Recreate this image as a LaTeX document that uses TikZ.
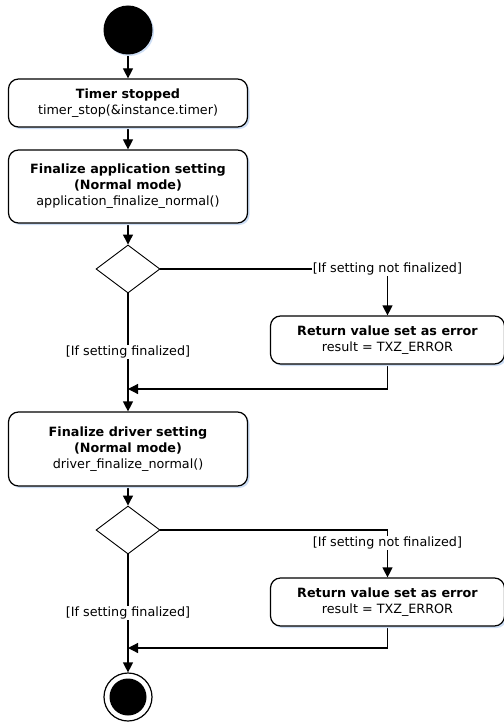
\documentclass[tikz,border=0pt]{standalone}
\usepackage{fontspec}
\setmainfont{DejaVu Sans}
\usepackage{tikz}
\usetikzlibrary{arrows.meta,shapes.geometric,shadows,backgrounds}

\begin{document}
\begin{tikzpicture}[x=1bp,y=-1bp]
\tikzset{action/.style = {rectangle,rounded corners=10bp,draw,line width=1.2bp,fill=white,
  minimum width=239bp,align=center,inner sep=0pt,font=\fontsize{12.8}{16}\selectfont,
  drop shadow={fill={rgb,255:red,205;green,222;blue,245},shadow xshift=2bp,shadow yshift=-2bp,opacity=1}}}
\tikzset{choice/.style = {diamond,draw,line width=0.9bp,minimum width=64bp,minimum height=48bp,inner sep=0pt}}
\tikzset{guard/.style = {fill=white,inner sep=1bp,font=\fontsize{12.8}{15}\selectfont}}
\tikzset{edge/.style = {-{Triangle[length=10bp,width=10bp]},line width=1.2bp}}
\tikzset{flow/.style = {line width=1.2bp}}
\useasboundingbox (0,0) rectangle (504,723);
% vertices
\node[circle,fill=black,minimum size=49bp,inner sep=0pt,
  drop shadow={fill={rgb,255:red,205;green,222;blue,245},shadow xshift=1.5bp,shadow yshift=-1.5bp,opacity=1}] (start) at (128,30) {};
\node[action,minimum height=48bp] (stop) at (128,103) {\textbf{Timer stopped}\\timer\_stop(\&instance.timer)};
\node[action,minimum height=73bp] (app) at (128,186.5) {\textbf{Finalize application setting}\\\textbf{(Normal mode)}\\application\_finalize\_normal()};
\node[choice] (c1) at (128,269) {};
\node[guard] (no1) at (387.5,269) {[If setting not finalized]};
\node[action,minimum width=234bp,minimum height=48bp] (err1) at (387.5,340) {\textbf{Return value set as error}\\result = TXZ\_ERROR};
\node[guard] (yes1) at (128,352) {[If setting finalized]};
\coordinate (m1) at (128,389);
\node[action,minimum height=74bp] (drv) at (128,449) {\textbf{Finalize driver setting}\\\textbf{(Normal mode)}\\driver\_finalize\_normal()};
\node[choice] (c2) at (128,530) {};
\coordinate (k2) at (387.5,530);
\node[guard] (no2) at (387.5,543) {[If setting not finalized]};
\node[action,minimum width=234bp,minimum height=48bp] (err2) at (387.5,602) {\textbf{Return value set as error}\\result = TXZ\_ERROR};
\node[guard] (yes2) at (128,613) {[If setting finalized]};
\coordinate (m2) at (128,648);
\node[circle,draw,line width=1.2bp,fill=white,minimum size=48bp,inner sep=0pt] (end) at (128,697) {};
\node[circle,fill=black,minimum size=37bp,inner sep=0pt] (endin) at (end) {};
%edges
\begin{pgfonlayer}{background}
\draw[edge] (start) to (stop);
\draw[edge] (stop) to (app);
\draw[edge] (app) to (c1);
\draw[flow] (c1.east) to (no1.west);
\draw[edge] (no1) to (err1);
\draw[edge] (c1.south) to (drv.north);
\draw[edge] (err1.south) |- (m1);
\draw[edge] (drv) to (c2);
\draw[flow] (c2.east) to (k2);
\draw[edge] (k2) to (err2.north);
\draw[edge] (c2.south) to (end.north);
\draw[edge] (err2.south) |- (m2);
\end{pgfonlayer}
\end{tikzpicture}
\end{document}
